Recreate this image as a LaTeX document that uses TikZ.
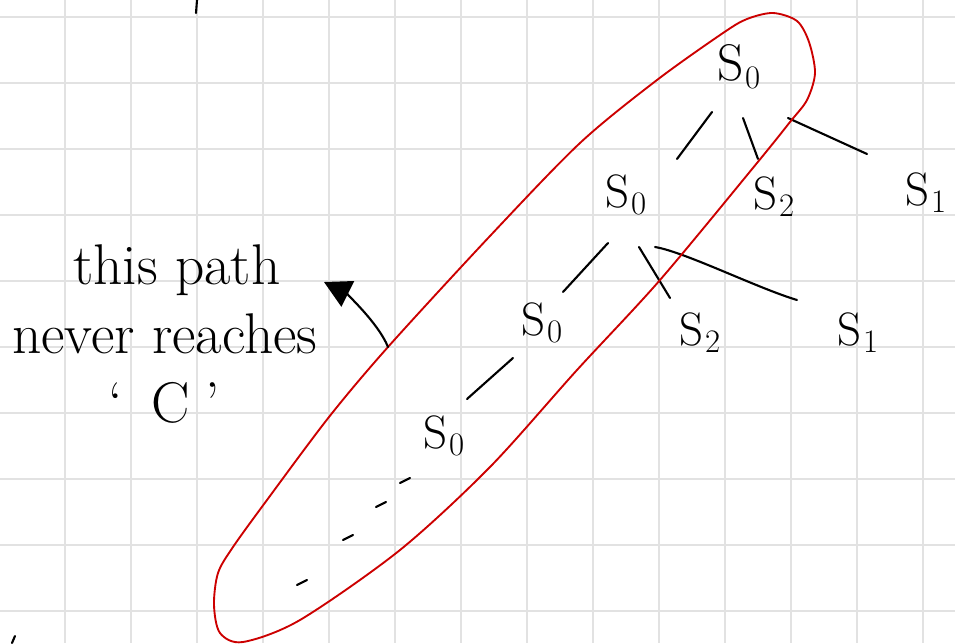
\documentclass[tikz,border=0pt]{standalone}
\usepackage{xcolor}
\usepackage{tikz}
\usetikzlibrary{arrows.meta, positioning}
\definecolor{gridline}{HTML}{E2E2E2}
\definecolor{loopred}{HTML}{CC0000}
\newcommand{\stlbl}[1]{S\kern1pt\raisebox{-0.35ex}{\fontsize{28}{28}\selectfont #1}}
\tikzset{
  ink/.style={line width=1.8pt, draw=black, line cap=round},
  stt/.style={font=\fontsize{40}{40}\selectfont, inner sep=0pt},
  rootstt/.style={stt, font=\fontsize{44}{44}\selectfont},
  br/.style={ink},
  note/.style={font=\fontsize{49}{59}\selectfont, align=left, inner sep=0pt},
  hull/.style={line width=1.6pt, draw=loopred},
  arr/.style={ink, -{Triangle[length=0.8cm, width=0.85cm]}},
  paper/.style={line width=1.1pt, draw=gridline},
}
\begin{document}
\begin{tikzpicture}[x=0.03cm, y=-0.03cm]
  \useasboundingbox (0,0) rectangle (955,643);
  \foreach \gx in {65,131,...,923} \draw[paper] (\gx,0) -- (\gx,643);
  \foreach \gy in {17,83,...,611} \draw[paper] (0,\gy) -- (955,\gy);

  \node[rootstt] (r) at (739,67) {\stlbl{0}};
  \node[stt] (a) at (626,195) {\stlbl{0}};
  \node[stt] (b) at (774,197) {\stlbl{2}};
  \node[stt] (c) at (926,193) {\stlbl{1}};
  \node[stt] (d) at (542,323) {\stlbl{0}};
  \node[stt] (e) at (700,333) {\stlbl{2}};
  \node[stt] (f) at (858,333) {\stlbl{1}};
  \node[stt] (g) at (444,436) {\stlbl{0}};

  \draw[br] ([shift={(-27,45)}]r.center) -- ([shift={(51,-36)}]a.center);
  \draw[br] ([shift={(4,51)}]r.center) -- ([shift={(-16,-38)}]b.center);
  \draw[br] ([shift={(49,51)}]r.center) -- ([shift={(-59,-39)}]c.center);
  \draw[br] ([shift={(-18,48)}]a.center) -- ([shift={(21,-31)}]d.center);
  \draw[br] ([shift={(13,52)}]a.center) -- ([shift={(-30,-35)}]e.center);
  \draw[br] ([shift={(29,52)}]a.center) .. controls +(30,5) and +(-40,-12) .. ([shift={(-61,-33)}]f.center);
  \draw[br] ([shift={(69,-78)}]g.center) -- ([shift={(23,-37)}]g.center);
  \foreach \p/\q in {400/483, 376/507, 343/540, 297/585}
    \draw[ink] (\p,\q) -- ++(10,-5);

  \draw[hull] plot[smooth cycle] coordinates {(773,13) (797,21) (809,42) (815,73) (807,100) (790,122) (757,163) (660,280) (577,370) (490,467) (400,550) (300,620) (243,642) (220,633) (214,605) (218,573) (233,547) (267,500) (329,417) (388,347) (490,236) (580,143) (657,80) (723,33) (747,19)};

  \node[note, anchor=north west] (txt) at (12,244)
    {\hspace*{1.83cm}this path\\never reaches\\\hspace*{2.88cm}`\enspace C\;'};
  \coordinate (hit) at (388,347);
  \coordinate (tip) at (324,282);
  \draw[arr] (hit) .. controls +(-10,-25) and +(20,10) .. (tip);

  \draw[ink] (197,0) -- (196,13);
  \draw[ink] (15,636) -- (12,643);
\end{tikzpicture}
\end{document}
